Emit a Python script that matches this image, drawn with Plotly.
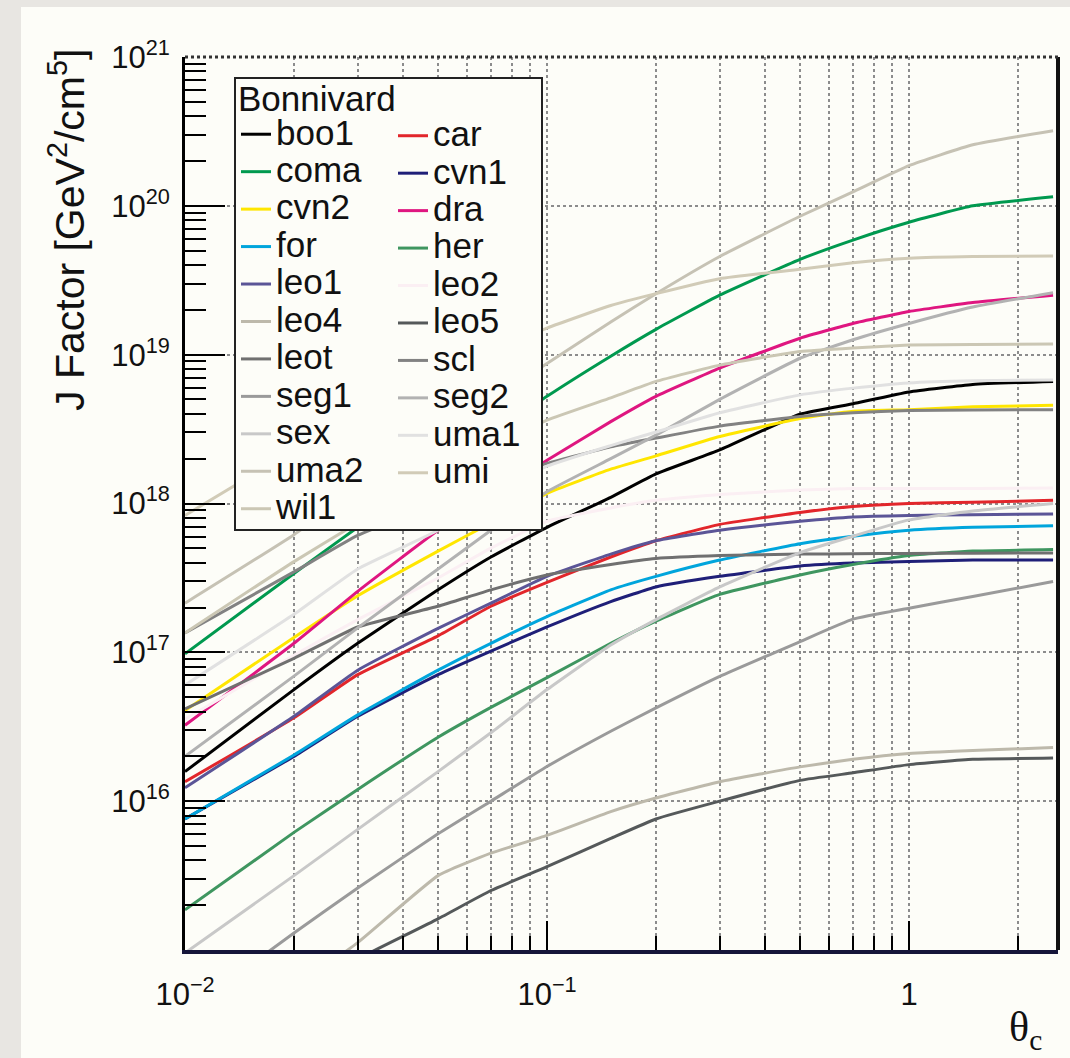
import plotly.graph_objects as go

# ---------------- data ----------------
theta = [0.01, 0.02, 0.03, 0.05, 0.07, 0.1, 0.15, 0.2, 0.3, 0.5, 0.7, 1.0, 1.5, 2.5]

boo1 = [1.58e16, 5.62e16, 1.15e17, 2.63e17, 4.37e17, 6.92e17, 1.10e18, 1.58e18, 2.29e18, 3.98e18, 4.68e18, 5.62e18, 6.31e18, 6.61e18]
car = [1.35e16, 3.63e16, 7.08e16, 1.29e17, 2.04e17, 2.95e17, 4.37e17, 5.62e17, 7.24e17, 8.71e17, 9.55e17, 1.00e18, 1.02e18, 1.05e18]
coma = [9.77e16, 3.39e17, 6.92e17, 1.62e18, 2.88e18, 5.25e18, 9.77e18, 1.48e19, 2.51e19, 4.37e19, 5.89e19, 7.76e19, 1.00e20, 1.15e20]
cvn1 = [7.59e15, 2.00e16, 3.72e16, 7.08e16, 1.02e17, 1.48e17, 2.19e17, 2.75e17, 3.24e17, 3.80e17, 3.98e17, 4.07e17, 4.17e17, 4.17e17]
cvn2 = [4.07e16, 1.26e17, 2.40e17, 4.79e17, 7.41e17, 1.17e18, 1.70e18, 2.09e18, 2.82e18, 3.72e18, 4.17e18, 4.27e18, 4.47e18, 4.57e18]
dra = [3.24e16, 1.15e17, 2.57e17, 6.61e17, 1.12e18, 1.95e18, 3.55e18, 5.25e18, 8.13e18, 1.29e19, 1.62e19, 1.95e19, 2.24e19, 2.51e19]
for_ = [7.59e15, 2.04e16, 3.80e16, 7.59e16, 1.15e17, 1.74e17, 2.63e17, 3.24e17, 4.17e17, 5.37e17, 6.03e17, 6.61e17, 6.92e17, 7.08e17]
her = [1.86e15, 6.17e15, 1.20e16, 2.69e16, 4.27e16, 6.76e16, 1.15e17, 1.62e17, 2.45e17, 3.31e17, 3.89e17, 4.47e17, 4.79e17, 4.90e17]
leo1 = [1.23e16, 3.72e16, 7.59e16, 1.45e17, 2.14e17, 3.24e17, 4.57e17, 5.62e17, 6.61e17, 7.59e17, 8.13e17, 8.32e17, 8.41e17, 8.51e17]
leo2 = [3.55e16, 9.55e16, 1.66e17, 3.16e17, 5.01e17, 7.59e17, 9.33e17, 1.05e18, 1.15e18, 1.23e18, 1.26e18, 1.26e18, 1.26e18, 1.27e18]
leo4 = [1.58e14, 5.50e14, 1.12e15, 3.16e15, 4.47e15, 5.89e15, 8.51e15, 1.05e16, 1.35e16, 1.70e16, 1.91e16, 2.09e16, 2.19e16, 2.29e16]
leo5 = [2.00e14, 5.01e14, 8.71e14, 1.62e15, 2.51e15, 3.63e15, 5.62e15, 7.59e15, 1.00e16, 1.38e16, 1.55e16, 1.76e16, 1.91e16, 1.95e16]
leot = [4.17e16, 9.12e16, 1.48e17, 2.04e17, 2.63e17, 3.31e17, 3.89e17, 4.27e17, 4.47e17, 4.57e17, 4.60e17, 4.62e17, 4.63e17, 4.65e17]
scl = [1.35e17, 3.47e17, 6.10e17, 1.00e18, 1.41e18, 1.86e18, 2.40e18, 2.75e18, 3.31e18, 3.84e18, 4.07e18, 4.22e18, 4.25e18, 4.27e18]
seg1 = [3.80e14, 1.30e15, 2.61e15, 6.03e15, 1.00e16, 1.71e16, 2.95e16, 4.23e16, 6.89e16, 1.18e17, 1.67e17, 1.98e17, 2.37e17, 2.99e17]
seg2 = [2.00e16, 6.92e16, 1.46e17, 3.63e17, 6.61e17, 1.20e18, 2.00e18, 2.88e18, 5.01e18, 9.46e18, 1.26e19, 1.62e19, 2.09e19, 2.61e19]
sex = [9.55e14, 3.16e15, 6.46e15, 1.58e16, 2.88e16, 5.62e16, 1.12e17, 1.66e17, 2.75e17, 4.68e17, 6.03e17, 7.76e17, 8.91e17, 1.00e18]
uma1 = [6.03e16, 1.80e17, 3.63e17, 6.61e17, 1.12e18, 1.78e18, 2.45e18, 3.02e18, 4.07e18, 5.37e18, 5.96e18, 6.46e18, 6.68e18, 6.76e18]
uma2 = [2.14e17, 6.17e17, 1.26e18, 2.88e18, 5.01e18, 8.71e18, 1.66e19, 2.57e19, 4.57e19, 8.51e19, 1.24e20, 1.86e20, 2.57e20, 3.20e20]
umi = [8.32e17, 2.29e18, 3.98e18, 7.41e18, 1.07e19, 1.51e19, 2.14e19, 2.57e19, 3.24e19, 3.75e19, 4.15e19, 4.45e19, 4.57e19, 4.61e19]
wil1 = [1.35e17, 4.07e17, 7.41e17, 1.51e18, 2.34e18, 3.63e18, 5.13e18, 6.61e18, 8.51e18, 1.05e19, 1.11e19, 1.16e19, 1.17e19, 1.18e19]

galaxies = ["boo1", "car", "coma", "cvn1", "cvn2", "dra", "for", "her", "leo1", "leo2",
            "leo4", "leo5", "leot", "scl", "seg1", "seg2", "sex", "uma1", "uma2", "umi", "wil1"]
series = [boo1, car, coma, cvn1, cvn2, dra, for_, her, leo1, leo2,
          leo4, leo5, leot, scl, seg1, seg2, sex, uma1, uma2, umi, wil1]

x_major = [0.01, 0.1, 1]
x_major_text = ["10<sup>\u22122</sup>", "10<sup>\u22121</sup>", "1"]
x_minor = [0.02, 0.03, 0.04, 0.05, 0.06, 0.07, 0.08, 0.09,
           0.2, 0.3, 0.4, 0.5, 0.6, 0.7, 0.8, 0.9, 2]
y_major = [1e15, 1e16, 1e17, 1e18, 1e19, 1e20, 1e21]
y_major_text = ["", "10<sup>16</sup>", "10<sup>17</sup>", "10<sup>18</sup>",
                "10<sup>19</sup>", "10<sup>20</sup>", "10<sup>21</sup>"]
y_minor = [m * 10.0 ** e for e in range(15, 21) for m in range(2, 10)]

# ---------------- styles ----------------
colors = {
    "boo1": "#000000", "car": "#e2262b", "coma": "#00994f", "cvn1": "#1f1f78",
    "cvn2": "#ffe600", "dra": "#df1680", "for": "#00a5dc", "her": "#3f9660",
    "leo1": "#5b5597", "leo2": "#fbeff3", "leo4": "#bdb9ab", "leo5": "#55595a",
    "leot": "#707070", "scl": "#828282", "seg1": "#9a9a9a", "seg2": "#b2b2b2",
    "sex": "#c8c8c8", "uma1": "#e1e1e1", "uma2": "#c6c2b4", "umi": "#d1cbb7",
    "wil1": "#cbc7b4",
}
left_col = ["boo1", "coma", "cvn2", "for", "leo1", "leo4", "leot", "seg1", "sex", "uma2", "wil1"]

FONT = "Liberation Sans, Arial, Helvetica, sans-serif"
CARD = "#fdfdf8"

fig = go.Figure()
for name, vals in zip(galaxies, series):
    fig.add_trace(go.Scatter(
        x=theta, y=vals, mode="lines",
        name='<span style="font-size:35px">%s</span>' % name,
        line=dict(color=colors[name], width=3, shape="spline", smoothing=0.4),
        legend="legend" if name in left_col else "legend2",
        hoverinfo="skip",
    ))

L, R, T, B = 185, 12, 57, 108
W, H = 1070, 1058
pw, ph = W - L - R, H - T - B


def px_x(p):
    return (p - L) / pw


def px_y(p):
    return (H - B - p) / ph


fig.update_layout(
    width=W, height=H,
    margin=dict(l=L, r=R, t=T, b=B, pad=0, autoexpand=False),
    paper_bgcolor="#e8e6e2",
    plot_bgcolor=CARD,
    font=dict(family=FONT, color="#111111", size=31),
    xaxis=dict(
        type="log", range=[-2, 0.4116], automargin=False,
        tickmode="array", tickvals=x_major, ticktext=x_major_text,
        ticks="inside", ticklen=29, tickwidth=2, tickcolor="#000",
        tickfont=dict(size=31, family=FONT, color="#111"),
        ticklabelstandoff=14,
        showline=True, linecolor="#15153a", linewidth=4,
        showgrid=True, gridcolor="#8c8c8c", griddash="dot", gridwidth=1.6,
        zeroline=False,
        minor=dict(tickmode="array", tickvals=x_minor, ticks="inside", ticklen=14,
                   tickwidth=2, tickcolor="#000", showgrid=True,
                   gridcolor="#8c8c8c", griddash="dot", gridwidth=1.6),
    ),
    yaxis=dict(
        type="log", range=[15, 21], automargin=False,
        tickmode="array", tickvals=y_major, ticktext=y_major_text,
        ticks="inside", ticklen=40, tickwidth=2, tickcolor="#000",
        tickfont=dict(size=31, family=FONT, color="#111"),
        ticklabelstandoff=6,
        showline=True, linecolor="#000", linewidth=3,
        showgrid=True, gridcolor="#8c8c8c", griddash="dot", gridwidth=1.6,
        zeroline=False,
        minor=dict(tickmode="array", tickvals=y_minor, ticks="inside", ticklen=21,
                   tickwidth=2, tickcolor="#000", showgrid=False),
    ),
    legend=dict(
        xref="paper", yref="paper",
        x=px_x(236), y=px_y(65), xanchor="left", yanchor="top",
        bgcolor="rgba(0,0,0,0)", borderwidth=0,
        font=dict(size=26.5, family=FONT, color="#111"),
        title=dict(text="Bonnivard", side="top", font=dict(size=35, family=FONT, color="#111")),
        itemwidth=30, tracegroupgap=0,
    ),
    legend2=dict(
        xref="paper", yref="paper",
        x=px_x(393), y=px_y(112), xanchor="left", yanchor="top",
        bgcolor="rgba(0,0,0,0)", borderwidth=0,
        font=dict(size=26.5, family=FONT, color="#111"),
        itemwidth=30, tracegroupgap=0,
    ),
    shapes=[
        # page card
        dict(type="rect", xref="paper", yref="paper", layer="below",
             x0=px_x(21), x1=px_x(1075), y0=px_y(1065), y1=px_y(7),
             fillcolor=CARD, line=dict(width=0)),
        # frame right and top
        dict(type="line", xref="paper", yref="paper", layer="above",
             x0=1, x1=1, y0=0, y1=1, line=dict(color="#111", width=4)),
        dict(type="line", xref="paper", yref="paper", layer="above",
             x0=0, x1=1, y0=1, y1=1, line=dict(color="#333", width=3, dash="dot")),
        # legend box
        dict(type="rect", xref="paper", yref="paper", layer="above",
             x0=px_x(235), x1=px_x(542), y0=px_y(530), y1=px_y(78),
             fillcolor=CARD, line=dict(color="#222", width=2)),
    ],
    annotations=[
        dict(text="J Factor [GeV<sup>2</sup>/cm<sup>5</sup>]", textangle=-90,
             xref="paper", yref="paper", x=px_x(67), y=px_y(230),
             xanchor="center", yanchor="middle", showarrow=False,
             font=dict(size=41, family=FONT, color="#111")),
        dict(text="\u03b8<sub>c</sub>", xref="paper", yref="paper",
             x=px_x(1025), y=px_y(1030), xanchor="center", yanchor="middle",
             showarrow=False,
             font=dict(size=42, family="Liberation Serif, Times New Roman, serif", color="#111")),
    ],
)

fig.write_html("out.html")
